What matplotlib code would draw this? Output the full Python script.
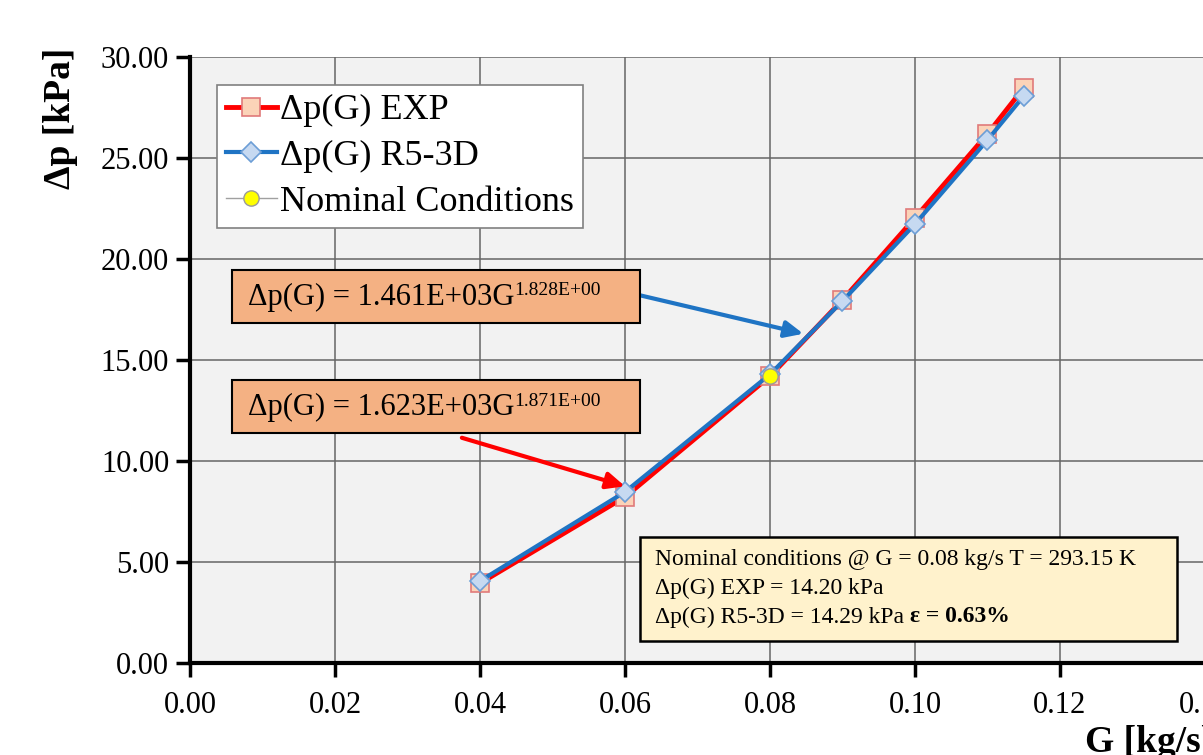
import numpy as np
import matplotlib.pyplot as plt
from matplotlib.patches import Rectangle

plt.rcParams['font.family'] = ['Liberation Serif', 'DejaVu Serif']

# data
G = [0.04, 0.06, 0.08, 0.09, 0.10, 0.11, 0.115]
dp_exp = [3.95, 8.22, 14.20, 17.97, 22.03, 26.19, 28.47]
dp_r5 = [4.06, 8.47, 14.29, 17.92, 21.73, 25.89, 28.07]
G_nom = [0.08]
dp_nom = [14.20]

xticks = np.arange(0, 0.141, 0.02)
yticks = np.arange(0, 30.1, 5)

W, H = 1203, 755
fig = plt.figure(figsize=(W / 100, H / 100), dpi=100)
ax = fig.add_axes([190 / W, 92 / H, 1015 / W, 606 / H])
ax.set_facecolor('#f2f2f2')

ax.plot(G, dp_exp, color='#ff0000', lw=3.5, marker='s', ms=13,
        mfc='#fbd3b8', mec='#e07a7a', mew=1.2, label='Δp(G) EXP', zorder=3)
ax.plot(G, dp_r5, color='#1f74c4', lw=3, marker='D', ms=10,
        mfc='#c6d9f1', mec='#6c9ed6', mew=1.2, label='Δp(G) R5-3D', zorder=4)
ax.plot(G_nom, dp_nom, color='#a0a0a0', lw=1, marker='o', ms=11,
        mfc='#ffff00', mec='#9a9a9a', mew=1, label='Nominal Conditions', zorder=5)

ax.set_xlim(0, 0.14)
ax.set_ylim(0, 30)
ax.set_xticks(xticks)
ax.set_yticks(yticks)
ax.set_xticklabels(['%.2f' % v for v in xticks])
ax.set_yticklabels(['%.2f' % v for v in yticks])
ax.tick_params(labelsize=22, width=2.5, length=10, direction='out', pad=10)
ax.tick_params(axis='y', pad=5)
ax.grid(True, color='#666666', lw=1.1)
ax.set_axisbelow(True)
for s in ['top', 'right']:
    ax.spines[s].set_visible(False)
for s in ['left', 'bottom']:
    ax.spines[s].set_linewidth(3)
    ax.spines[s].set_zorder(6)

leg = ax.legend(loc='upper left', bbox_to_anchor=(0.0266, 0.954), fontsize=26,
                frameon=True, fancybox=False, edgecolor='#808080',
                framealpha=1, handlelength=1.4, handletextpad=0.1,
                borderpad=0.25, labelspacing=0.35, borderaxespad=0)
leg.get_frame().set_linewidth(1.2)
leg.set_zorder(7)

fig.text(61 / W, 1 - 118 / H, 'Δp [kPa]', rotation=90, fontsize=27,
         fontweight='bold', ha='center', va='center')
fig.text(1085 / W, 1 - 742 / H, 'G [kg/s]', fontsize=27,
         fontweight='bold', ha='left', va='center')

# fitted-law callouts
boxes = [
    (0.0058, 16.83, 0.0563, 2.63, 18.1, '1.461E+03', '1.828E+00',
     '#1f74c4', (0.0846, 16.3), (0.0621, 18.2)),
    (0.0058, 11.39, 0.0563, 2.62, 12.65, '1.623E+03', '1.871E+00',
     '#ff0000', (0.0600, 8.75), (0.0375, 11.15)),
]
for x0, y0, w, h, yt, coef, expo, col, tip, tail in boxes:
    ax.add_patch(Rectangle((x0, y0), w, h, facecolor='#f4b183',
                           edgecolor='black', lw=1.5, zorder=7))
    t = ax.text(x0 + 0.0022, yt, 'Δp(G) = ' + coef + 'G', fontsize=22,
                va='center', ha='left', zorder=8)
    ax.annotate(expo, xy=(1, 0.72), xycoords=t, fontsize=14,
                va='center', ha='left', zorder=8)
    ax.annotate('', xy=tip, xytext=tail, zorder=6,
                arrowprops=dict(arrowstyle='-|>,head_length=1.1,head_width=0.5',
                                color=col, lw=3, shrinkA=0, shrinkB=0))

# nominal conditions box
ax.add_patch(Rectangle((0.0621, 1.09), 0.0740, 5.15, facecolor='#fff2cc',
                       edgecolor='black', lw=1.8, zorder=7))
ax.text(0.0641, 5.10, 'Nominal conditions @ G = 0.08 kg/s T = 293.15 K',
        fontsize=17, va='center', ha='left', zorder=8)
ax.text(0.0641, 3.71, 'Δp(G) EXP = 14.20 kPa', fontsize=17,
        va='center', ha='left', zorder=8)
t3 = ax.text(0.0641, 2.28, 'Δp(G) R5-3D = 14.29 kPa ', fontsize=17,
             va='center', ha='left', zorder=8)
ax.annotate('ε = 0.63%', xy=(1, 0.5), xycoords=t3, fontsize=17,
            fontweight='bold', va='center', ha='left', zorder=8)

fig.savefig('out.png', dpi=100)
